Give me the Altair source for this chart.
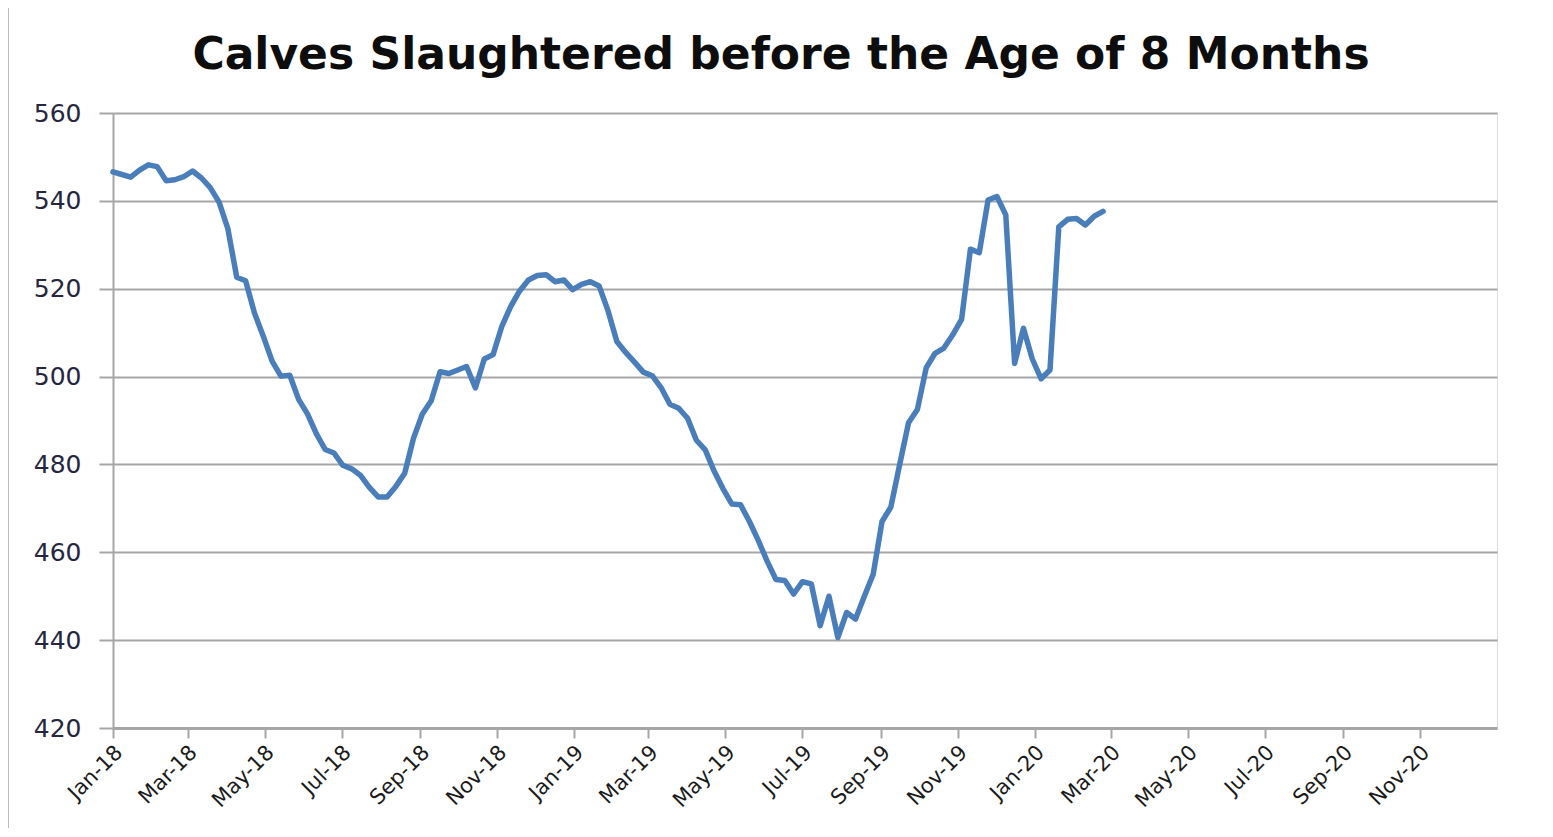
import altair as alt
import pandas as pd

# Weekly series, starting 1 Jan 2018
start_date = "2018-01-01"
values = [546.6, 546.0, 545.4, 547.0, 548.2, 547.8, 544.6, 544.8, 545.5, 546.8,
          545.2, 543.0, 539.7, 533.6, 522.6, 521.8, 514.5, 509.2, 503.5, 500.1,
          500.3, 494.8, 491.5, 487.0, 483.4, 482.6, 479.8, 479.0, 477.5, 474.8,
          472.6, 472.6, 475.0, 478.0, 486.0, 491.5, 494.5, 501.1, 500.7, 501.5,
          502.3, 497.4, 504.0, 505.0, 511.5, 516.0, 519.5, 522.0, 523.0, 523.2,
          521.6, 522.0, 519.8, 521.0, 521.6, 520.6, 515.0, 508.0, 505.5, 503.3,
          501.0, 500.2, 497.5, 493.7, 492.8, 490.5, 485.5, 483.3, 478.5, 474.5,
          471.0, 470.8, 467.0, 462.7, 458.0, 453.8, 453.6, 450.5, 453.3, 452.8,
          443.3, 450.0, 440.6, 446.3, 444.8, 450.0, 455.0, 467.0, 470.3, 480.0,
          489.5, 492.5, 502.0, 505.3, 506.5, 509.5, 513.0, 529.0, 528.2, 540.2,
          541.0, 536.8, 503.0, 511.0, 504.0, 499.5, 501.5, 534.1, 535.8, 536.0,
          534.5, 536.5, 537.6]
dates = pd.date_range(start_date, periods=len(values), freq="7D")

title_text = "Calves Slaughtered before the Age of 8 Months"
y_ticks = [420, 440, 460, 480, 500, 520, 540, 560]
x_tick_months = [(2018, m) for m in (1, 3, 5, 7, 9, 11)] + \
                [(2019, m) for m in (1, 3, 5, 7, 9, 11)] + \
                [(2020, m) for m in (1, 3, 5, 7, 9, 11)]

df = pd.DataFrame({"date": dates.strftime("%Y-%m-%dT00:00:00"), "value": values})

FONT = "DejaVu Sans"
GRID = "#a6a6a6"

line = alt.Chart(df).mark_line(
    color="#4a7ebb", strokeWidth=5.5, strokeJoin="round", strokeCap="round"
).encode(
    x=alt.X(
        "date:T",
        scale=alt.Scale(domain=[alt.DateTime(year=2018, month=1, date=1),
                                alt.DateTime(year=2021, month=1, date=1)]),
        axis=alt.Axis(
            title=None,
            values=[alt.DateTime(year=y, month=m, date=1) for y, m in x_tick_months],
            format="%b-%y",
            labelAngle=-45,
            labelAlign="right",
            labelBaseline="middle",
            labelFont=FONT,
            labelFontSize=21,
            labelColor="#1a1a1a",
            labelPadding=11,
            labelOffset=6,
            tickSize=10,
            tickColor=GRID,
            tickWidth=2,
            domainColor=GRID,
            domainWidth=3,
            grid=False,
            labelOverlap=False,
        ),
    ),
    y=alt.Y(
        "value:Q",
        scale=alt.Scale(domain=[420, 560], nice=False, zero=False),
        axis=alt.Axis(
            title=None,
            values=y_ticks,
            labelFont=FONT,
            labelFontSize=25,
            labelColor="#262640",
            labelPadding=18,
            tickSize=14,
            tickColor=GRID,
            tickWidth=2,
            domainColor=GRID,
            domainWidth=2,
            grid=True,
            gridColor=GRID,
            gridWidth=2,
        ),
    ),
)

frame = alt.Chart(alt.Data(values=[{}])).mark_rule(color="#bdbdbd", strokeWidth=2).encode(
    x=alt.value(-105), x2=alt.value(1440), y=alt.value(-108)
)
frame_left = alt.Chart(alt.Data(values=[{}])).mark_rule(color="#bdbdbd", strokeWidth=2).encode(
    x=alt.value(-105), y=alt.value(-108), y2=alt.value(722)
)

title = alt.Chart(alt.Data(values=[{"t": title_text}])).mark_text(
    font=FONT, fontSize=44, fontWeight="bold", color="#0d0d0d",
    align="center", baseline="alphabetic"
).encode(
    text="t:N", x=alt.value(668), y=alt.value(-44)
)

chart = alt.layer(frame, frame_left, title, line).properties(
    width=1384,
    height=615,
    autosize=alt.AutoSizeParams(type="none"),
    padding={"left": 105, "top": 105, "right": 40, "bottom": 100},
).configure_view(stroke=None).configure(background="white")

chart.save("out.html", embed_options={"renderer": "svg", "actions": False})
